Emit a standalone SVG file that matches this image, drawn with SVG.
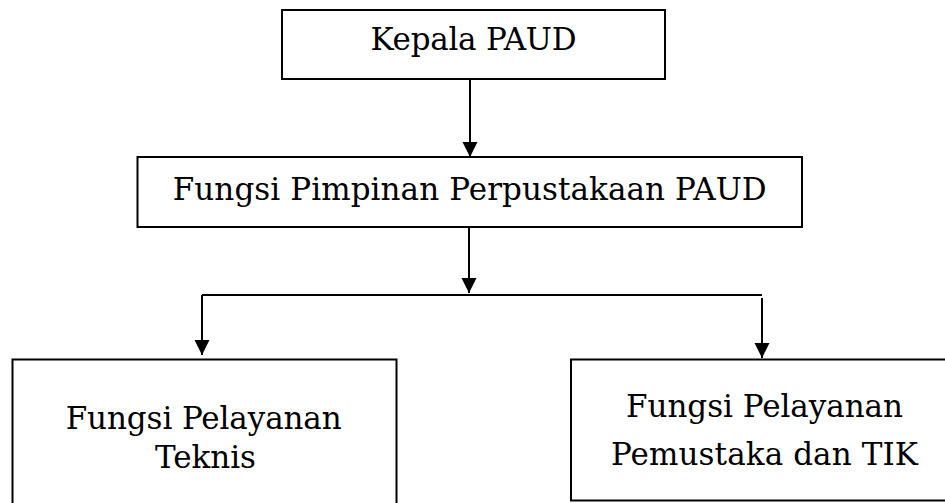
<svg xmlns="http://www.w3.org/2000/svg" width="945" height="503" viewBox="0 0 945 503">
  <style>
    .box { fill: #ffffff; stroke: #000000; stroke-width: 2; }
    .lbl { font-family: "DejaVu Serif", "Liberation Serif", serif; fill: #000000; text-anchor: middle; font-size: 31px; }
    .conn { fill: none; stroke: #000000; stroke-width: 2; }
  </style>
  <defs>
    <marker id="arrow" markerUnits="userSpaceOnUse" markerWidth="16" markerHeight="16" viewBox="0 0 16 16" refX="15" refY="8" orient="auto">
      <path d="M0,0.5 L15,8 L0,15.5 Z" fill="#000000"/>
    </marker>
  </defs>
  <rect width="945" height="503" fill="#ffffff"/>

  <g id="connectors">
    <line class="conn" x1="470" y1="79" x2="470" y2="157" marker-end="url(#arrow)"/>
    <line class="conn" x1="469" y1="227" x2="469" y2="293" marker-end="url(#arrow)"/>
    <line class="conn" x1="202" y1="295" x2="762" y2="295"/>
    <line class="conn" x1="202" y1="295" x2="202" y2="355" marker-end="url(#arrow)"/>
    <line class="conn" x1="762" y1="298" x2="762" y2="358" marker-end="url(#arrow)"/>
  </g>

  <g id="kepala">
    <rect class="box" x="282" y="10" width="383" height="69"/>
    <text class="lbl" x="473.5" y="50" textLength="206" lengthAdjust="spacing">Kepala PAUD</text>
  </g>

  <g id="pimpinan">
    <rect class="box" x="137.5" y="157" width="664.5" height="70"/>
    <text class="lbl" x="469.7" y="200" textLength="594" lengthAdjust="spacing">Fungsi Pimpinan Perpustakaan PAUD</text>
  </g>

  <g id="teknis">
    <rect class="box" x="12.5" y="359.5" width="384" height="160"/>
    <text class="lbl" x="203.7" y="429" textLength="276" lengthAdjust="spacing">Fungsi Pelayanan</text>
    <text class="lbl" x="205.5" y="468" textLength="101" lengthAdjust="spacing">Teknis</text>
  </g>

  <g id="pemustaka">
    <rect class="box" x="571" y="359.5" width="390" height="141"/>
    <text class="lbl" x="764.5" y="417" textLength="277" lengthAdjust="spacing">Fungsi Pelayanan</text>
    <text class="lbl" x="764.5" y="465" textLength="307" lengthAdjust="spacing">Pemustaka dan TIK</text>
  </g>
</svg>
